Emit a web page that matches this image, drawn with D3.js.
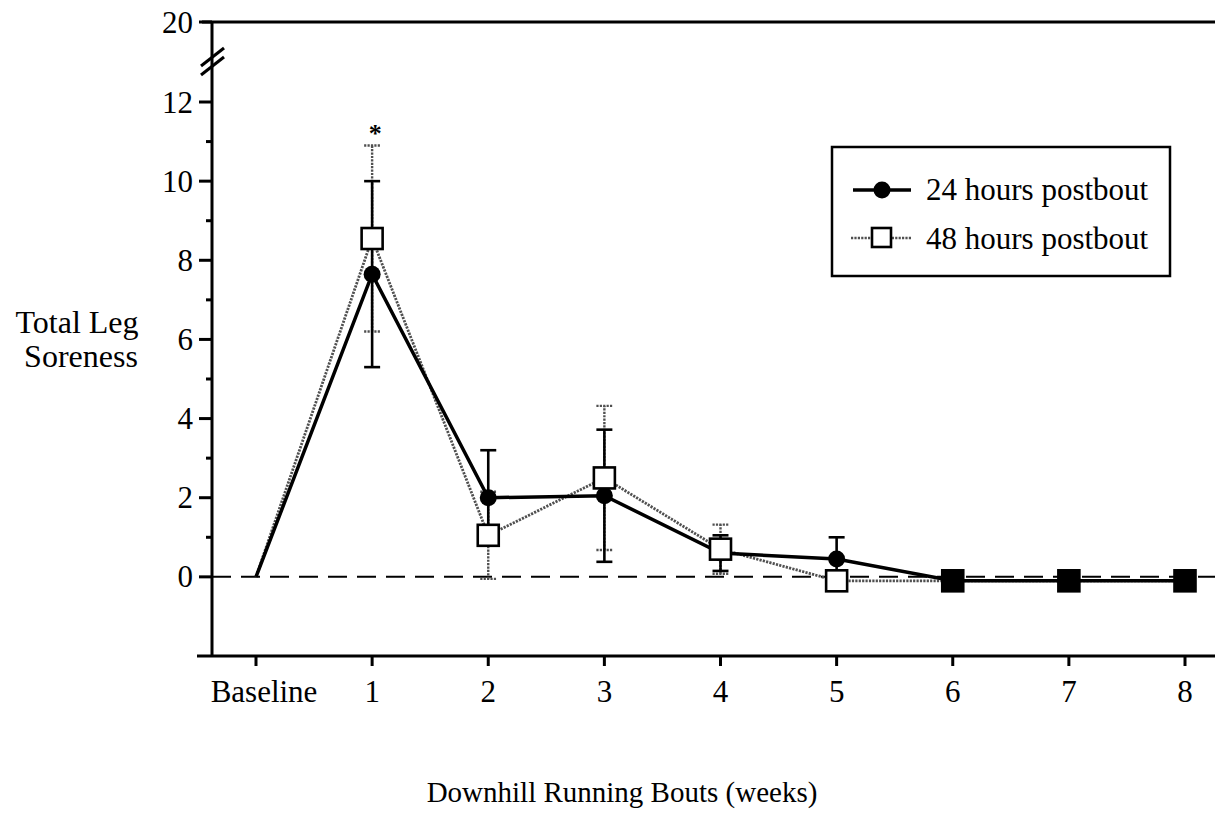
<!DOCTYPE html>
<html>
<head>
<meta charset="utf-8">
<script src="https://cdn.jsdelivr.net/npm/d3@7/dist/d3.min.js"></script>
<style>
  html, body { margin: 0; padding: 0; background: #fff; }
  svg { display: block; }
  text { font-family: "Liberation Serif", "Times New Roman", serif; fill: #000; }
</style>
</head>
<body>
<svg id="chart" width="1215" height="837"></svg>
<script>
// Downhill running bouts: total leg soreness at 24 h and 48 h after each bout
const categories = ["Baseline", "1", "2", "3", "4", "5", "6", "7", "8"];
const weeks = [0, 1, 2, 3, 4, 5, 6, 7, 8];

const soreness24 = [0, 7.65, 2.0, 2.05, 0.6, 0.45, -0.1, -0.1, -0.1];
const sem24      = [0, 2.35, 1.2, 1.67, 0.45, 0.55, 0, 0, 0];

const soreness48 = [0, 8.55, 1.05, 2.5, 0.7, -0.1, -0.1, -0.1, -0.1];
const sem48      = [0, 2.35, 1.1, 1.82, 0.62, 0, 0, 0, 0];

const yMajorTicks = [0, 2, 4, 6, 8, 10, 12, 20];
const yMinorTicks = [1, 3, 5, 7, 9, 11];
const significant = [1];            // bouts marked with *

const seriesNames = ["24 hours postbout", "48 hours postbout"];

const svg = d3.select("#chart");

const plotLeft = 212, plotRight = 1215;

// x: weeks
const x = d3.scaleLinear().domain([0, 8]).range([256, 1185]);
// y: broken axis, 12 .. 20 compressed into the break
const y = d3.scaleLinear().domain([-2, 12, 20]).range([656, 102, 22]);

const pts24 = weeks.map((w, i) => ({ w, v: soreness24[i], e: sem24[i] }));
const pts48 = weeks.map((w, i) => ({ w, v: soreness48[i], e: sem48[i] }));

const grey = "#505050";
const dotted = "2.2,1.2";

// frame: top line, left axis, bottom axis
svg.append("line").attr("x1", plotLeft - 10).attr("x2", plotRight)
  .attr("y1", y(20)).attr("y2", y(20)).attr("stroke", "#000").attr("stroke-width", 3);
svg.append("line").attr("x1", plotLeft).attr("x2", plotLeft)
  .attr("y1", y(20)).attr("y2", y(-2)).attr("stroke", "#000").attr("stroke-width", 3);
svg.append("line").attr("x1", 197).attr("x2", plotRight)
  .attr("y1", y(-2)).attr("y2", y(-2)).attr("stroke", "#000").attr("stroke-width", 3);

// axis break marks
const brk = svg.append("g").attr("stroke", "#000").attr("stroke-width", 3);
[-5, 4].forEach(dy => {
  brk.append("line")
    .attr("x1", plotLeft - 11).attr("y1", y(16) + dy + 9)
    .attr("x2", plotLeft + 12).attr("y2", y(16) + dy - 9);
});

// y ticks and labels
const yAxis = svg.append("g");
yAxis.selectAll("line.major").data(yMajorTicks).join("line")
  .attr("class", "major")
  .attr("x1", plotLeft - 13).attr("x2", plotLeft)
  .attr("y1", d => y(d)).attr("y2", d => y(d))
  .attr("stroke", "#000").attr("stroke-width", 3);
yAxis.selectAll("line.minor").data(yMinorTicks).join("line")
  .attr("class", "minor")
  .attr("x1", plotLeft - 6).attr("x2", plotLeft)
  .attr("y1", d => y(d)).attr("y2", d => y(d))
  .attr("stroke", "#000").attr("stroke-width", 3);
yAxis.selectAll("text").data(yMajorTicks).join("text")
  .attr("x", plotLeft - 19).attr("y", d => y(d))
  .attr("dy", "0.34em").attr("text-anchor", "end")
  .style("font-size", "31px")
  .text(d => d);

// x ticks and labels
const xAxis = svg.append("g");
xAxis.selectAll("line").data(weeks).join("line")
  .attr("x1", d => x(d)).attr("x2", d => x(d))
  .attr("y1", y(-2)).attr("y2", y(-2) + 10)
  .attr("stroke", "#000").attr("stroke-width", 3);
xAxis.selectAll("text").data(weeks).join("text")
  .attr("x", (d, i) => x(d) + (i === 0 ? 8 : 0)).attr("y", 702)
  .attr("text-anchor", "middle")
  .style("font-size", "31px")
  .text((d, i) => categories[i]);

// axis titles
svg.append("text").attr("x", 622).attr("y", 802).attr("text-anchor", "middle")
  .style("font-size", "29px").text("Downhill Running Bouts (weeks)");
const yt = svg.append("text").attr("text-anchor", "middle").style("font-size", "32px");
yt.append("tspan").attr("x", 77).attr("y", 333).text("Total Leg");
yt.append("tspan").attr("x", 81).attr("y", 367).text("Soreness");

// zero reference line
svg.append("line").attr("x1", plotLeft).attr("x2", plotRight)
  .attr("y1", y(0)).attr("y2", y(0))
  .attr("stroke", "#000").attr("stroke-width", 2).attr("stroke-dasharray", "19,10");

// error bars
function errorBars(pts, opts) {
  const g = svg.append("g").attr("stroke", opts.color).attr("stroke-width", opts.width);
  if (opts.dash) g.attr("stroke-dasharray", opts.dash);
  const withErr = pts.filter(p => p.e > 0);
  g.selectAll("line.stem").data(withErr).join("line")
    .attr("x1", p => x(p.w)).attr("x2", p => x(p.w))
    .attr("y1", p => y(p.v - p.e)).attr("y2", p => y(p.v + p.e));
  g.selectAll("line.capHi").data(withErr).join("line").attr("class", "capHi")
    .attr("x1", p => x(p.w) - 8).attr("x2", p => x(p.w) + 8)
    .attr("y1", p => y(p.v + p.e)).attr("y2", p => y(p.v + p.e));
  g.selectAll("line.capLo").data(withErr).join("line").attr("class", "capLo")
    .attr("x1", p => x(p.w) - 8).attr("x2", p => x(p.w) + 8)
    .attr("y1", p => y(p.v - p.e)).attr("y2", p => y(p.v - p.e));
}
errorBars(pts48, { color: grey, width: 2.4, dash: dotted });
errorBars(pts24, { color: "#000", width: 2.6 });

// series lines
const line = d3.line().x(p => x(p.w)).y(p => y(p.v));
svg.append("path").datum(pts48).attr("d", line)
  .attr("fill", "none").attr("stroke", grey).attr("stroke-width", 2.8)
  .attr("stroke-dasharray", dotted);
svg.append("path").datum(pts24).attr("d", line)
  .attr("fill", "none").attr("stroke", "#000").attr("stroke-width", 3.5);

// markers (no marker at baseline)
svg.selectAll("circle.m24").data(pts24.slice(1)).join("circle")
  .attr("class", "m24")
  .attr("cx", p => x(p.w)).attr("cy", p => y(p.v)).attr("r", 8.5)
  .attr("fill", "#000");
const sq = 21;
svg.selectAll("rect.m48").data(pts48.slice(1)).join("rect")
  .attr("class", "m48")
  .attr("x", p => x(p.w) - sq / 2).attr("y", p => y(p.v) - sq / 2)
  .attr("width", sq).attr("height", sq)
  // where both series coincide the filled circle shows through
  .attr("fill", (p, i) => soreness24[i + 1] === p.v ? "#000" : "#fff")
  .attr("stroke", "#000").attr("stroke-width", 2.6);

// significance marker
svg.selectAll("text.sig").data(significant).join("text")
  .attr("class", "sig")
  .attr("x", d => x(d) + 3).attr("y", d => y(soreness48[d] + sem48[d]) - 4)
  .attr("text-anchor", "middle").style("font-size", "26px").style("font-weight", "bold")
  .text("*");

// legend
const lg = svg.append("g");
lg.append("rect").attr("x", 832).attr("y", 147).attr("width", 338).attr("height", 129)
  .attr("fill", "#fff").attr("stroke", "#000").attr("stroke-width", 2.5);
lg.append("line").attr("x1", 853).attr("x2", 911).attr("y1", 190).attr("y2", 190)
  .attr("stroke", "#000").attr("stroke-width", 3.5);
lg.append("circle").attr("cx", 882).attr("cy", 190).attr("r", 8.5).attr("fill", "#000");
lg.append("line").attr("x1", 851).attr("x2", 912).attr("y1", 238).attr("y2", 238)
  .attr("stroke", grey).attr("stroke-width", 2.6).attr("stroke-dasharray", dotted);
lg.append("rect").attr("x", 872).attr("y", 228).attr("width", 19).attr("height", 19)
  .attr("fill", "#fff").attr("stroke", "#000").attr("stroke-width", 2.6);
lg.selectAll("text").data(seriesNames).join("text")
  .attr("x", 926).attr("y", (d, i) => 200 + i * 49)
  .style("font-size", "31px")
  .text(d => d);
</script>
</body>
</html>
